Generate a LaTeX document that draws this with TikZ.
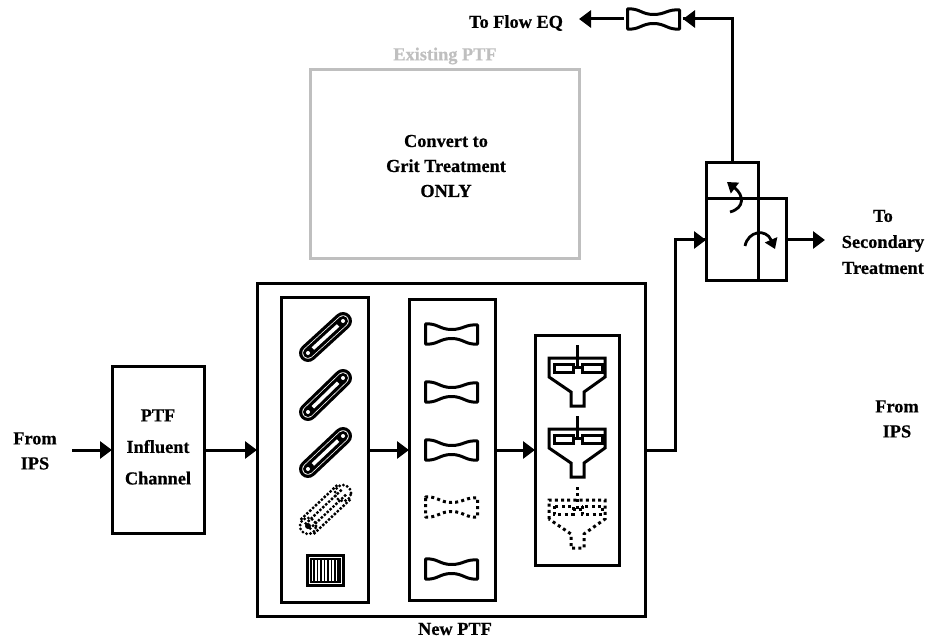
\documentclass[tikz,border=0pt]{standalone}
\usepackage{fontspec}
\setmainfont[BoldFeatures={FakeBold=0.6}]{Liberation Serif}
\usetikzlibrary{arrows.meta,calc}
\tikzset{
  box/.style={draw=black,line width=3pt,inner sep=0pt,outer sep=0pt,fill=none},
  graybox/.style={draw=black!25,line width=3pt,inner sep=0pt,outer sep=0pt},
  lbl/.style={font=\fontsize{18.3}{25}\selectfont\bfseries,align=center,inner sep=0pt,text=black},
  flow/.style={line width=3pt,-{Triangle[length=12pt,width=17pt]}},
  plainline/.style={line width=3pt},
  turn/.style={line width=2.8pt,-{Triangle[length=10pt,width=13pt]}},
  icon/.style={line width=3pt},
  icondot/.style={line width=3pt,dash pattern=on 3pt off 3.2pt},
  bowtie/.pic={
    \draw[pic actions,line join=round] (-26,-9) -- (-26,10) .. controls (-14,11) and (-12,4.5) .. (0,4.5)
      .. controls (12,4.5) and (14,11) .. (26,10) -- (26,-9)
      .. controls (14,-10) and (12,-4.5) .. (0,-4.5)
      .. controls (-12,-4.5) and (-14,-11) .. (-26,-10) -- cycle;
  },
  clarifier/.pic={
    \draw[pic actions] (0,-18) -- (0,5);
    \draw[pic actions] (-28,14) -- (-28,-5) -- (28,-5) -- (28,14) -- (7,29) -- (7,43) -- (-6,43) -- (-6,29) -- cycle;
    \draw[pic actions] (-23,1) rectangle (-4,9);
    \draw[pic actions] (5,1) rectangle (25,9);
    \draw[pic actions] (-4,4) -- (5,4);
  }
}
\newcommand{\barscreen}[4]{%
  \draw[line cap=round,line width=18pt,black] (#1,#2) -- (#3,#4);
  \draw[line cap=round,line width=11.5pt,white] (#1,#2) -- (#3,#4);
  \draw[line cap=round,line width=10pt,black] (#1,#2) -- (#3,#4);
  \draw[line width=3.5pt,white] ($(#1,#2)!0.14!(#3,#4)$) -- ($(#1,#2)!0.86!(#3,#4)$);
  \fill[white] (#1,#2) circle (2pt) (#3,#4) circle (2pt);
}
\begin{document}
\begin{tikzpicture}[x=1pt,y=-1pt]
\useasboundingbox (0,0) rectangle (927,639);
% boxes
\node[graybox,minimum width=269pt,minimum height=189pt] (existing) at (444.5,164.5) {};
\node[box,minimum width=92pt,minimum height=167pt] (influent) at (158,450) {};
\node[box,minimum width=388pt,minimum height=332pt] (newptf) at (451,450) {};
\node[box,minimum width=87pt,minimum height=305pt] (screens) at (324.5,450) {};
\node[box,minimum width=86pt,minimum height=300pt] (valves) at (452,450) {};
\node[box,minimum width=84pt,minimum height=230pt] (clarifiers) at (577,450) {};
\node[box,minimum width=52pt,minimum height=36pt] (splitup) at (732,181) {};
\node[box,minimum width=52pt,minimum height=82pt] (splitlow) at (732,240) {};
\node[box,minimum width=28pt,minimum height=82pt] (splitright) at (772,240) {};
\node[inner sep=0pt,outer sep=0pt,minimum width=59pt,minimum height=22pt] (topvalve) at (653.5,19) {};
\pic[icon] at (653.5,19) {bowtie};
% labels
\node[lbl] (existinglbl) at (445,56) {\textcolor{black!25}{Existing PTF}};
\node[lbl] (convert) at (446,166) {Convert to\\Grit Treatment\\ONLY};
\node[lbl] (fromips) at (35,451) {From\\IPS};
\node[lbl,font=\fontsize{18.3}{31.5}\selectfont\bfseries] (influentlbl) at (158,447) {PTF\\Influent\\Channel};
\node[lbl] (newlbl) at (455,629) {New PTF};
\node[lbl] (flowlbl) at (516,23) {To Flow EQ};
\node[lbl,font=\fontsize{18.3}{26}\selectfont\bfseries] (second) at (883,242) {To\\Secondary\\Treatment};
\node[lbl] (fromips2) at (897,419) {From\\IPS};
\coordinate (ipsstart) at (72,450);
\coordinate (elbow1) at (675,450);
\coordinate (elbow2) at (675,240);
\coordinate (secondend) at (825,240);
\coordinate (elbow3) at (732,19);
\coordinate (eqend) at (579,19);
% connectors
\draw[flow] (ipsstart) -- (influent.west);
\draw[flow] (influent.east) -- (newptf.west);
\draw[flow] (screens.east) -- (valves.west);
\draw[flow] (valves.east) -- (clarifiers.west);
\draw[plainline,line join=miter] (newptf.east) -- (elbow1) -- (elbow2) -- (splitlow.west);
\draw[flow] (elbow2) -- (splitlow.west);
\draw[flow] (splitright.east) -- (secondend);
\draw[plainline,line join=miter] (splitup.north) -- (elbow3) -- (topvalve.east);
\draw[flow] (elbow3) -- (topvalve.east);
\draw[flow] (topvalve.west) -- (eqend);
% turning arrows
\draw[turn] (730,212) .. controls (745,208) and (744,195) .. (727,182);
\draw[turn] (745,246) .. controls (748,231) and (766,228) .. (775,249);
% screens
\barscreen{308}{353}{343}{321}
\barscreen{308}{412}{343}{378}
\barscreen{308}{469}{343}{436}
\foreach \off in {-6.5,-2.2,2.2,6.5}{
  \draw[line cap=round,line width=3.4pt,dash pattern=on 0pt off 4pt] ($(308,526)+(\off,1.1*\off)$) -- ($(343,493)+(\off,1.1*\off)$);
}
\draw[line cap=round,line width=3.2pt,dash pattern=on 0pt off 4pt] (308,526) circle (8pt);
\draw[line cap=round,line width=3.2pt,dash pattern=on 0pt off 4pt] (343,493) circle (8pt);
\fill[black] (308,526) circle (3pt);
\draw[line width=3.6pt] (307.5,555.5) rectangle (343.5,585.5);
\draw[line width=1.2pt] (311,559) rectangle (340,582);
\foreach \gx in {314,317.5,321,324.5,328,331.5,335,338}{\draw[line width=1.5pt] (\gx,559) -- (\gx,582);}
% bowties
\pic[icon] at (451.5,334) {bowtie};
\pic[icon] at (451.5,392) {bowtie};
\pic[icon] at (451.5,450) {bowtie};
\pic[icondot] at (451.5,507) {bowtie};
\pic[icon] at (451.5,569) {bowtie};
% clarifiers
\pic[icon] at (577,363) {clarifier};
\pic[icon] at (577,434) {clarifier};
\pic[icondot] at (577,505) {clarifier};
\end{tikzpicture}
\end{document}
